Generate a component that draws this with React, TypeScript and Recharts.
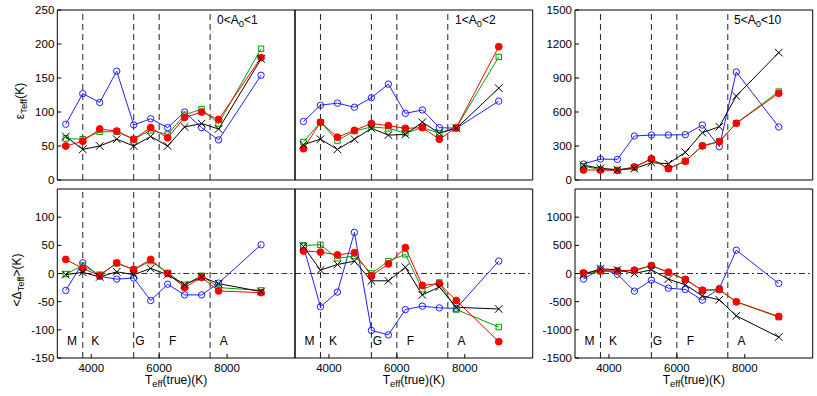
import React from "react";
import { LineChart, Line, XAxis, YAxis, ReferenceLine, ReferenceDot } from "recharts";

// effective temperature bins (K)
const temps = [3250, 3750, 4250, 4750, 5250, 5750, 6250, 6750, 7250, 7750, 9000];
const xTicks = [4000, 6000, 8000];
const classEdges = [3750, 5250, 6000, 7500];
const classNames = ["M", "K", "G", "F", "A"];
const classPos = [3430, 4120, 5430, 6400, 7900];

// top row: error eps_Teff
const errBlue1 = [82, 127, 114, 160, 81, 90, 77, 100, 77, 59, 154];
const errGreen1 = [61, 60, 71, 71, 60, 73, 67, 96, 104, 83, 193];
const errRed1 = [50, 57, 75, 72, 60, 77, 62, 92, 100, 89, 180];
const errBlack1 = [64, 45, 50, 60, 50, 64, 50, 78, 83, 75, 178];

const errBlue2 = [86, 110, 113, 107, 121, 141, 98, 103, 77, 76, 116];
const errGreen2 = [56, 85, 58, 72, 78, 76, 69, 77, 69, 77, 181];
const errRed2 = [46, 85, 63, 73, 83, 80, 76, 77, 60, 77, 196];
const errBlack2 = [52, 60, 45, 60, 76, 66, 67, 85, 69, 76, 135];

const errBlue3 = [141, 185, 182, 388, 397, 397, 400, 485, 294, 953, 468];
const errGreen3 = [122, 92, 88, 112, 185, 102, 168, 302, 340, 502, 780];
const errRed3 = [88, 88, 85, 115, 188, 100, 165, 300, 338, 500, 765];
const errBlack3 = [130, 103, 91, 100, 153, 144, 244, 418, 470, 741, 1124];

// bottom row: mean offset <Delta_Teff>
const offBlue1 = [-30, 19, -5, -10, -8, -48, -19, -38, -38, -17, 51];
const offGreen1 = [-1, 14, -2, 18, 7, 22, 1, -20, -4, -25, -30];
const offRed1 = [25, 9, -4, 19, 7, 25, 0, -25, -7, -31, -34];
const offBlack1 = [-2, 2, -6, 3, -2, 9, -2, -20, -6, -18, -32];

const offBlue2 = [48, -59, -33, 73, -101, -109, -64, -58, -61, -62, 22];
const offGreen2 = [50, 51, 27, 31, 0, 22, 34, -28, -16, -64, -95];
const offRed2 = [40, 38, 33, 37, -4, 17, 46, -21, -18, -48, -121];
const offBlack2 = [48, 6, 16, 22, -13, -13, 11, -38, -24, -60, -63];

const offBlue3 = [-100, 83, -12, -313, -118, -260, -284, -473, -266, 414, -177];
const offGreen3 = [-20, 40, 40, 50, 135, 20, -110, -300, -290, -505, -774];
const offRed3 = [12, 47, 47, 59, 142, 24, -106, -296, -284, -502, -762];
const offBlack3 = [-18, 83, 65, 0, 65, -100, -201, -396, -467, -751, -1129];

const errTicks = [0, 50, 100, 150, 200, 250];
const errTicks3 = [0, 300, 600, 900, 1200, 1500];
const offTicks = [-150, -100, -50, 0, 50, 100];
const offTicks3 = [-1500, -1000, -500, 0, 500, 1000];

const W = 817;
const H = 396;
const colLeft = [57.3, 295, 575];
const colWidth = 237.7;
const rowTop = [10, 189];
const rowHeight = [170, 169];
const AX = 1; // size given to each axis, taken back out of the margins

const BLUE = "#1f1fff";
const GREEN = "#00a000";
const RED = "#ff0000";
const BLACK = "#000000";
const FONT = "'Liberation Sans', Arial, Helvetica, sans-serif";

const build = (b: number[], g: number[], r: number[], k: number[]) =>
  temps.map((t, i) => ({ t, blue: b[i], green: g[i], red: r[i], black: k[i] }));

const openCircle = (color: string) => (p: any) =>
  <circle key={`c${p.index}`} cx={p.cx} cy={p.cy} r={3.2} fill="none" stroke={color} strokeWidth={1} />;
const filledCircle = (color: string) => (p: any) =>
  <circle key={`f${p.index}`} cx={p.cx} cy={p.cy} r={3.4} fill={color} stroke={color} strokeWidth={1} />;
const openSquare = (color: string) => (p: any) =>
  <rect key={`s${p.index}`} x={p.cx - 2.7} y={p.cy - 2.7} width={5.4} height={5.4} fill="none" stroke={color} strokeWidth={1} />;
const cross = (color: string) => (p: any) => (
  <path
    key={`x${p.index}`}
    d={`M${p.cx - 3.8},${p.cy - 3.8}L${p.cx + 3.8},${p.cy + 3.8}M${p.cx - 3.8},${p.cy + 3.8}L${p.cx + 3.8},${p.cy - 3.8}`}
    stroke={color}
    strokeWidth={1}
    fill="none"
  />
);

type Panel = {
  col: number;
  row: number;
  data: ReturnType<typeof build>;
  domain: [number, number];
  ticks: number[];
  showY: boolean;
  bottom: boolean;
};

const panels: Panel[] = [
  { col: 0, row: 0, data: build(errBlue1, errGreen1, errRed1, errBlack1), domain: [0, 250], ticks: errTicks, showY: true, bottom: false },
  { col: 1, row: 0, data: build(errBlue2, errGreen2, errRed2, errBlack2), domain: [0, 250], ticks: errTicks, showY: false, bottom: false },
  { col: 2, row: 0, data: build(errBlue3, errGreen3, errRed3, errBlack3), domain: [0, 1500], ticks: errTicks3, showY: true, bottom: false },
  { col: 0, row: 1, data: build(offBlue1, offGreen1, offRed1, offBlack1), domain: [-150, 150], ticks: offTicks, showY: true, bottom: true },
  { col: 1, row: 1, data: build(offBlue2, offGreen2, offRed2, offBlack2), domain: [-150, 150], ticks: offTicks, showY: false, bottom: true },
  { col: 2, row: 1, data: build(offBlue3, offGreen3, offRed3, offBlack3), domain: [-1500, 1500], ticks: offTicks3, showY: true, bottom: true },
];

const tickStyle = { fontSize: 11.5, fill: "#000", fontFamily: FONT };

function PanelChart({ p }: { p: Panel }) {
  const left = colLeft[p.col];
  const top = rowTop[p.row];
  const margin = {
    left: left - AX,
    top: top - AX,
    right: W - left - colWidth - AX,
    bottom: H - top - rowHeight[p.row] - AX,
  };
  const labelY = p.domain[0] * 0.8;
  return (
    <div style={{ position: "absolute", left: 0, top: 0 }}>
      <LineChart width={W} height={H} data={p.data} margin={margin}>
        <XAxis xAxisId="b" dataKey="t" type="number" domain={[3000, 10000]} ticks={xTicks} allowDataOverflow
          orientation="bottom" height={AX} tickSize={-4} tickMargin={10} stroke="#000"
          tick={p.bottom ? tickStyle : false} />
        <XAxis xAxisId="t" dataKey="t" type="number" domain={[3000, 10000]} ticks={xTicks} allowDataOverflow
          orientation="top" height={AX} tickSize={-4} stroke="#000" tick={false} />
        <YAxis yAxisId="l" type="number" domain={p.domain} ticks={p.ticks} allowDataOverflow
          orientation="left" width={AX} tickSize={-4} tickMargin={7} stroke="#000"
          tick={p.showY ? tickStyle : false} />
        <YAxis yAxisId="r" type="number" domain={p.domain} ticks={p.ticks} allowDataOverflow
          orientation="right" width={AX} tickSize={-4} stroke="#000" tick={false} />
        {classEdges.map((x) => (
          <ReferenceLine key={x} xAxisId="b" yAxisId="l" x={x} stroke="#222" strokeDasharray="6 4" strokeWidth={1} />
        ))}
        {p.bottom && (
          <ReferenceLine xAxisId="b" yAxisId="l" y={0} stroke="#333" strokeDasharray="6 3 2 3" strokeWidth={1} />
        )}
        {p.bottom &&
          classNames.map((n, i) => (
            <ReferenceDot key={n} xAxisId="b" yAxisId="l" x={classPos[i]} y={labelY} r={0} fill="none" stroke="none"
              label={{ value: n, position: "center", fill: "#000", fontSize: 12, fontFamily: FONT }} />
          ))}
        <Line xAxisId="b" yAxisId="l" dataKey="blue" type="linear" stroke={BLUE} strokeWidth={1} dot={openCircle(BLUE)} activeDot={false} isAnimationActive={false} />
        <Line xAxisId="b" yAxisId="l" dataKey="green" type="linear" stroke={GREEN} strokeWidth={1} dot={openSquare(GREEN)} activeDot={false} isAnimationActive={false} />
        <Line xAxisId="b" yAxisId="l" dataKey="red" type="linear" stroke={RED} strokeWidth={1} dot={filledCircle(RED)} activeDot={false} isAnimationActive={false} />
        <Line xAxisId="b" yAxisId="l" dataKey="black" type="linear" stroke={BLACK} strokeWidth={1} dot={cross(BLACK)} activeDot={false} isAnimationActive={false} />
      </LineChart>
    </div>
  );
}

const Sub = ({ children }: { children: React.ReactNode }) => (
  <span style={{ fontSize: "0.78em", position: "relative", top: "0.35em" }}>{children}</span>
);

const text: React.CSSProperties = { position: "absolute", fontSize: 12, lineHeight: 1, whiteSpace: "nowrap", color: "#000", fontFamily: FONT };

const rangeLabels = [
  { left: 217, pre: "0<A", post: "<1" },
  { left: 455, pre: "1<A", post: "<2" },
  { left: 734, pre: "5<A", post: "<10" },
];

export default function App() {
  return (
    <div style={{ position: "absolute", left: 0, top: 0, width: W, height: H, background: "#fff", fontFamily: FONT }}>
      {panels.map((p, i) => (
        <PanelChart key={i} p={p} />
      ))}
      {rangeLabels.map((r) => (
        <div key={r.left} style={{ ...text, left: r.left, top: 14 }}>
          {r.pre}
          <Sub>0</Sub>
          {r.post}
        </div>
      ))}
      <div style={{ ...text, left: 20, top: 101, transform: "translate(-50%,-50%) rotate(-90deg)" }}>
        ε<Sub>Teff</Sub>(K)
      </div>
      <div style={{ ...text, left: 17, top: 280, transform: "translate(-50%,-50%) rotate(-90deg)" }}>
        {"<Δ"}
        <Sub>Teff</Sub>
        {">(K)"}
      </div>
      {colLeft.map((l) => (
        <div key={l} style={{ ...text, left: l + colWidth / 2, top: 374, transform: "translateX(-50%)" }}>
          T<Sub>eff</Sub>(true)(K)
        </div>
      ))}
    </div>
  );
}
